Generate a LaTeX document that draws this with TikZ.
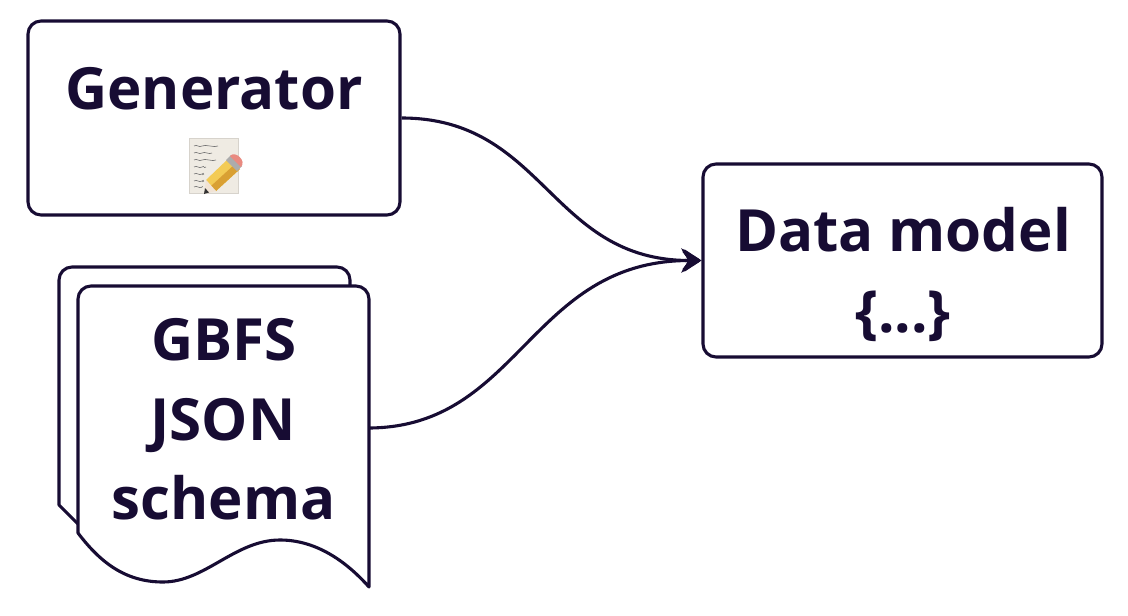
\documentclass[tikz,border=0pt]{standalone}
\usepackage{fontspec}
\setmainfont{Open Sans}
\usetikzlibrary{arrows.meta}
\definecolor{ink}{HTML}{170C33}
\definecolor{paper}{HTML}{EFEBE3}
\definecolor{pencilA}{HTML}{F3CB55}
\definecolor{pencilB}{HTML}{D9A033}
\definecolor{eraser}{HTML}{E98A80}
\tikzset{
  x=1pt,y=-1pt,
  boxnode/.style={draw=ink,line width=3.1pt,rounded corners=13pt,fill=white,inner sep=0pt},
  outline/.style={draw=ink,line width=3.1pt,fill=white,line join=round},
  label/.style={text=ink,font=\fontsize{58.2}{58}\selectfont\bfseries,anchor=base,inner sep=0pt},
  conn/.style={draw=ink,line width=3.1pt,-{Stealth[length=20pt,width=24pt,inset=7pt]}},
  headfill/.style={draw=ink,fill=ink,line width=3.5pt,line join=round},
}
\begin{document}
\begin{tikzpicture}
\useasboundingbox (0,0) rectangle (1128,616);
\node[boxnode,minimum width=372pt,minimum height=194pt] (gen) at (214,118) {};
\node[boxnode,minimum width=399pt,minimum height=193pt] (data) at (902.5,260.5) {};
% back page
\path[outline] (59,505) -- (59,280) arc[start angle=180,end angle=270,radius=13] -- (337,267) arc[start angle=270,end angle=360,radius=13] -- (350,300) -- (200,540) -- (78,524) -- cycle;
% front page
\node[minimum width=291pt,minimum height=284pt,inner sep=0pt] (doc) at (223.5,428) {};
\path[outline] (78,533) -- (78,299) arc[start angle=180,end angle=270,radius=13] -- (356,286) arc[start angle=270,end angle=360,radius=13] -- (369,587)
  .. controls (345,560) and (315,540) .. (280,540)
  .. controls (235,540) and (205,582) .. (163,582)
  .. controls (125,582) and (100,562) .. (78,533) -- cycle;
\node[label] (tgen) at (214,109) {Generator};
\node[label] (tdata) at (903,251) {Data model};
\node[label] (tdots) at (903,332) {\{...\}};
\node[label] (t1) at (224,360) {GBFS};
\node[label] (t2) at (223,440) {JSON};
\node[label] (t3) at (223.5,519) {schema};
% memo icon
\fill[paper!90!black] (189,138) rectangle (239,194);
\fill[paper] (190,139) rectangle (238,193);
\foreach \yy/\ww in {146/218,153/212,160/216,167/206,174/204,181/204,187/202}{
  \draw[black!55,line width=0.6pt] (194,\yy) .. controls (197,\yy-2) and (199,\yy+2) .. (202,\yy) .. controls (205,\yy-2) and (\ww-3,\yy+2) .. (\ww,\yy);
}
\fill[pencilA] (206,180) -- (229,158) -- (240,169) -- (216,191) -- cycle;
\fill[pencilB] (211,186) -- (235,164) -- (240,169) -- (216,191) -- cycle;
\fill[white!78!brown] (206,180) -- (216,191) -- (204,194) -- cycle;
\fill[black!80] (204,194) -- (209,192.5) -- (205,188) -- cycle;
\fill[gray!65] (226,160) -- (231,155) -- (242,166) -- (237,171) -- cycle;
\fill[eraser] (230,156) .. controls (235,150) and (247,161) .. (241,167) -- cycle;
% connectors
\draw[conn] (gen.east) .. controls (545,118) and (550,260.5) .. (data.west);
\draw[conn] (doc.east) .. controls (520,427) and (530,260.5) .. (data.west);
\begin{scope}[shift={(data.west)}]
  \path[headfill] (-3,0) -- (-17.5,-9.5) -- (-10,0) -- (-17.5,9.5) -- cycle;
\end{scope}
\end{tikzpicture}
\end{document}
